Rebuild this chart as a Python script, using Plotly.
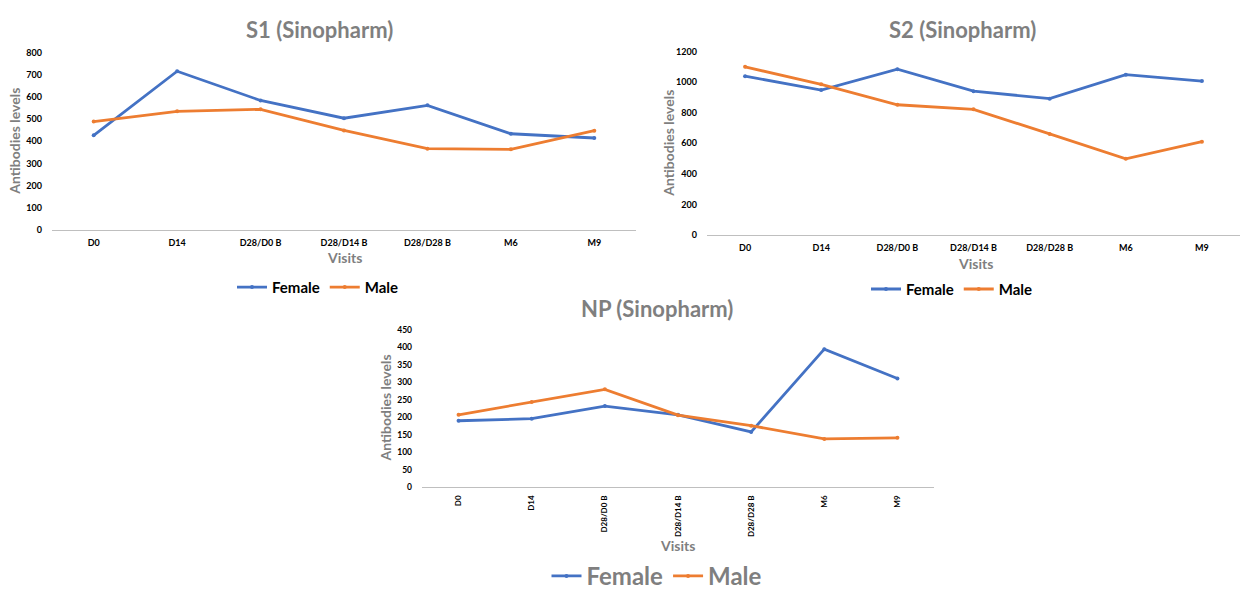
import plotly.graph_objects as go

visits = ["D0", "D14", "D28/D0 B", "D28/D14 B", "D28/D28 B", "M6", "M9"]

s1_female = [427, 716, 584, 504, 562, 434, 415]
s1_male = [489, 535, 544, 449, 367, 364, 448]

s2_female = [1039, 948, 1085, 941, 892, 1049, 1007]
s2_male = [1100, 986, 852, 822, 661, 498, 610]

np_female = [190, 196, 232, 207, 158, 395, 311]
np_male = [207, 244, 280, 206, 176, 138, 141]

BLUE = "#4472C4"
ORANGE = "#ED7D31"
GREY = "#7F7F7F"
FONT = "Lato"

W, H = 1240, 599

def px_x(p):
    return p / W

def px_y(p):
    return 1 - p / H

fig = go.Figure()

panels = [
    ("S1", s1_female, s1_male, "x", "y", "legend"),
    ("S2", s2_female, s2_male, "x2", "y2", "legend2"),
    ("NP", np_female, np_male, "x3", "y3", "legend3"),
]

for name, fem, mal, xa, ya, lg in panels:
    fig.add_trace(go.Scatter(x=visits, y=fem, name="Female", mode="lines+markers",
                             line=dict(color=BLUE, width=2.8), marker=dict(size=4, color=BLUE),
                             xaxis=xa, yaxis=ya, legend=lg))
    fig.add_trace(go.Scatter(x=visits, y=mal, name="Male", mode="lines+markers",
                             line=dict(color=ORANGE, width=2.8), marker=dict(size=4, color=ORANGE),
                             xaxis=xa, yaxis=ya, legend=lg))

def tf(size):
    return dict(family=FONT, size=size, color="#000000", weight="bold")

def xaxis(domain, anchor, angle=0, fs=9):
    return dict(domain=domain, anchor=anchor, type="category", showgrid=False,
                showline=True, linecolor="#BFBFBF", linewidth=1.3, ticks="",
                tickfont=tf(fs), tickangle=angle, range=[-0.5, 6.5], zeroline=False,
                ticklabelstandoff=4, fixedrange=True)

def yaxis(domain, anchor, rng, dtick, fs=9):
    return dict(domain=domain, anchor=anchor, range=rng, dtick=dtick, showgrid=False,
                showline=False, zeroline=False, ticks="", tickfont=tf(fs),
                ticklabelstandoff=9, fixedrange=True)

fig.update_layout(
    width=W, height=H,
    margin=dict(l=0, r=0, t=0, b=0),
    paper_bgcolor="white", plot_bgcolor="white",
    font=dict(family=FONT),
    xaxis=xaxis([px_x(52), px_x(636)], "y"),
    yaxis=yaxis([px_y(231), px_y(48)], "x", [0, 800], 100),
    xaxis2=xaxis([px_x(707), 1.0], "y2"),
    yaxis2=yaxis([px_y(236), px_y(47)], "x2", [0, 1200], 200),
    xaxis3=xaxis([px_x(422), px_x(934)], "y3", angle=-90, fs=8),
    yaxis3=yaxis([px_y(496), px_y(334)], "x3", [0, 450], 50, fs=8.5),
    legend=dict(orientation="h", x=px_x(318), y=px_y(290), xanchor="center", yanchor="middle",
                font=dict(family=FONT, size=15, color="#000000", weight="bold"),
                itemwidth=30, tracegroupgap=0, bgcolor="rgba(0,0,0,0)"),
    legend2=dict(orientation="h", x=px_x(952), y=px_y(292), xanchor="center", yanchor="middle",
                 font=dict(family=FONT, size=15, color="#000000", weight="bold"),
                 itemwidth=30, bgcolor="rgba(0,0,0,0)"),
    legend3=dict(orientation="h", x=px_x(657), y=px_y(588), xanchor="center", yanchor="middle",
                 font=dict(family=FONT, size=24, color=GREY, weight="bold"),
                 itemwidth=30, bgcolor="rgba(0,0,0,0)"),
)

annots = []
titles = [("S1 (Sinopharm)", 319, 24), ("S2 (Sinopharm)", 962, 24), ("NP (Sinopharm)", 657, 312)]
for t, x, y in titles:
    annots.append(dict(text=t, x=px_x(x), y=px_y(y), xref="paper", yref="paper",
                       showarrow=False, xanchor="center", yanchor="middle",
                       font=dict(family=FONT, size=22, color=GREY, weight="bold")))
visits_pos = [(344, 259), (975, 265), (677, 556)]
for x, y in visits_pos:
    annots.append(dict(text="Visits", x=px_x(x), y=px_y(y), xref="paper", yref="paper",
                       showarrow=False, xanchor="center", yanchor="middle",
                       font=dict(family=FONT, size=14, color=GREY, weight="bold")))
ylab_pos = [(15, 140), (669, 142), (386, 415)]
for x, y in ylab_pos:
    annots.append(dict(text="Antibodies levels", x=px_x(x), y=px_y(y), xref="paper", yref="paper",
                       showarrow=False, xanchor="center", yanchor="middle", textangle=-90,
                       font=dict(family=FONT, size=14, color=GREY, weight="bold")))
fig.update_layout(annotations=annots)

fig.write_html("out.html",
               post_script="document.body.style.margin='0';document.body.style.overflow='hidden';")
